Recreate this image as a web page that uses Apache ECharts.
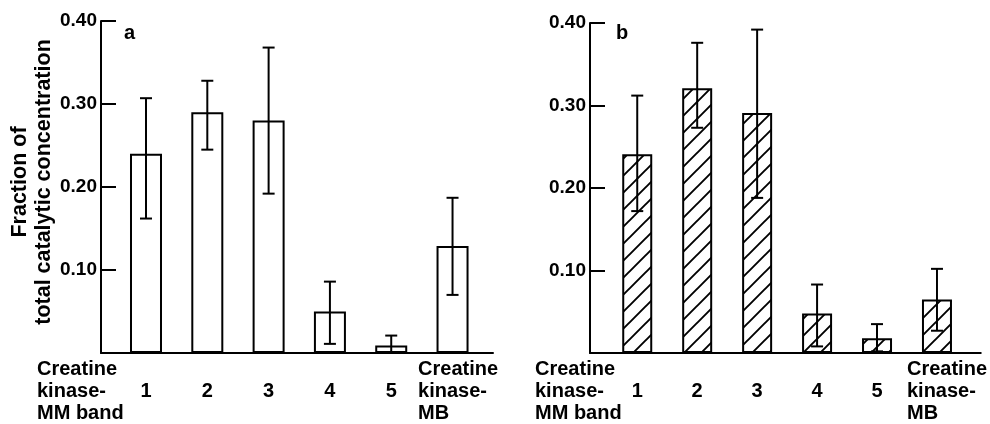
<!DOCTYPE html>
<html>
<head>
<meta charset="utf-8">
<script src="https://cdn.jsdelivr.net/npm/echarts@6/dist/echarts.min.js"></script>
<style>
html,body{margin:0;padding:0;background:#fff;}
#chart{width:990px;height:424px;}
</style>
</head>
<body>
<div id="chart"></div>
<script>
// ---- data ----
const positions = [1, 2, 3, 4, 5, 6];
const bandLabels = ['1', '2', '3', '4', '5', 'Creatine\nkinase-\nMB'];
const firstLabel = 'Creatine\nkinase-\nMM band';
const yTicks = [0, 0.1, 0.2, 0.3, 0.4];
const yAxisTitle = 'Fraction of\ntotal catalytic concentration';
const panelNames = ['a', 'b'];

const valuesA  = [0.240, 0.290, 0.280, 0.050, 0.009, 0.129];
const errLowA  = [0.162, 0.245, 0.192, 0.011, 0.001, 0.070];
const errHighA = [0.307, 0.328, 0.368, 0.086, 0.021, 0.187];

const valuesB  = [0.241, 0.321, 0.291, 0.048, 0.018, 0.065];
const errLowB  = [0.172, 0.273, 0.188, 0.008, 0.002, 0.027];
const errHighB = [0.312, 0.376, 0.392, 0.083, 0.035, 0.102];

// ---- styling helpers ----
const FONT = 'Liberation Sans';
const hatch = (function () {
  const s = 17;
  const c = document.createElement('canvas');
  c.width = s; c.height = s;
  const g = c.getContext('2d');
  g.fillStyle = '#fff'; g.fillRect(0, 0, s, s);
  g.strokeStyle = '#000'; g.lineWidth = 1.9;
  g.beginPath();
  g.moveTo(-2, s + 2); g.lineTo(s + 2, -2);
  g.moveTo(-2, 2); g.lineTo(2, -2);
  g.moveTo(s - 2, s + 2); g.lineTo(s + 2, s - 2);
  g.stroke();
  return c;
})();

function xAxisFor(gridIndex, min, max, nameGap, lastWidth) {
  return {
    type: 'value', gridIndex: gridIndex, min: min, max: max,
    axisLine: { show: true, lineStyle: { color: '#000', width: 2 } },
    axisTick: { show: false },
    splitLine: { show: false },
    name: firstLabel, nameLocation: 'start', nameGap: nameGap,
    nameTextStyle: { fontFamily: FONT, fontWeight: 'bold', fontSize: 20, color: '#000',
      align: 'left', verticalAlign: 'top', lineHeight: 22, padding: [5, 0, 0, 0] },
    axisLabel: {
      customValues: positions, margin: 5,
      fontFamily: FONT, fontWeight: 'bold', fontSize: 20, color: '#000', lineHeight: 22,
      formatter: function (v) {
        const i = Math.round(v) - 1;
        const t = bandLabels[i];
        if (t.indexOf('\n') >= 0) return t.split('\n').map(s => '{l|' + s + '}').join('\n');
        return '\n' + t;
      },
      rich: { l: { width: lastWidth, align: 'left', fontFamily: FONT, fontWeight: 'bold', fontSize: 20, color: '#000', lineHeight: 22 } }
    }
  };
}
function yAxisFor(gridIndex) {
  return {
    type: 'value', gridIndex: gridIndex, min: 0, max: 0.4, interval: 0.1,
    axisLine: { show: true, lineStyle: { color: '#000', width: 2 } },
    axisTick: { show: true, inside: true, length: 15, lineStyle: { color: '#000', width: 2 } },
    splitLine: { show: false },
    axisLabel: { margin: 4, fontFamily: FONT, fontWeight: 'bold', fontSize: 19, color: '#000',
      formatter: v => (v === 0 ? '' : v.toFixed(2)) },
    name: gridIndex === 0 ? yAxisTitle : '',
    nameLocation: 'middle', nameGap: 43, nameRotate: 90,
    nameTextStyle: { fontFamily: FONT, fontWeight: 'bold', fontSize: 21.5, color: '#000', lineHeight: 24,
      padding: [0, 0, 0, 10] }
  };
}
function pairs(vals) { return vals.map((v, i) => [positions[i], v]); }
function errs(lo, hi) { return lo.map((v, i) => [positions[i], v, hi[i]]); }
function errorRender(params, api) {
  const x = api.value(0);
  const top = api.coord([x, api.value(2)]);
  const bot = api.coord([x, api.value(1)]);
  const h = 6;
  const st = { stroke: '#000', lineWidth: 2 };
  return { type: 'group', children: [
    { type: 'line', shape: { x1: top[0], y1: top[1], x2: bot[0], y2: bot[1] }, style: st },
    { type: 'line', shape: { x1: top[0] - h, y1: top[1], x2: top[0] + h, y2: top[1] }, style: st },
    { type: 'line', shape: { x1: bot[0] - h, y1: bot[1], x2: bot[0] + h, y2: bot[1] }, style: st }
  ] };
}

const chart = echarts.init(document.getElementById('chart'), null, { renderer: 'canvas' });
chart.setOption({
  backgroundColor: '#fff',
  animation: false,
  title: [
    { text: panelNames[0], left: 119, top: 18, textStyle: { fontFamily: FONT, fontWeight: 'bold', fontSize: 20, color: '#000' } },
    { text: panelNames[1], left: 611, top: 18, textStyle: { fontFamily: FONT, fontWeight: 'bold', fontSize: 20, color: '#000' } }
  ],
  grid: [
    { left: 101, top: 21, width: 392, height: 334.5 },
    { left: 590, top: 23, width: 393, height: 333.5 }
  ],
  xAxis: [ xAxisFor(0, 0.266, 6.66, 64, 69), xAxisFor(1, 0.212, 6.73, 55, 60) ],
  yAxis: [ yAxisFor(0), yAxisFor(1) ],
  series: [
    { type: 'bar', xAxisIndex: 0, yAxisIndex: 0, barWidth: 32, data: pairs(valuesA),
      itemStyle: { color: '#fff', borderColor: '#000', borderWidth: 2 } },
    { type: 'custom', xAxisIndex: 0, yAxisIndex: 0, renderItem: errorRender, data: errs(errLowA, errHighA),
      encode: { x: 0, y: [1, 2] }, z: 5 },
    { type: 'bar', xAxisIndex: 1, yAxisIndex: 1, barWidth: 30, data: pairs(valuesB),
      itemStyle: { color: { image: hatch, repeat: 'repeat' }, borderColor: '#000', borderWidth: 2 } },
    { type: 'custom', xAxisIndex: 1, yAxisIndex: 1, renderItem: errorRender, data: errs(errLowB, errHighB),
      encode: { x: 0, y: [1, 2] }, z: 5 }
  ]
});
</script>
</body>
</html>
